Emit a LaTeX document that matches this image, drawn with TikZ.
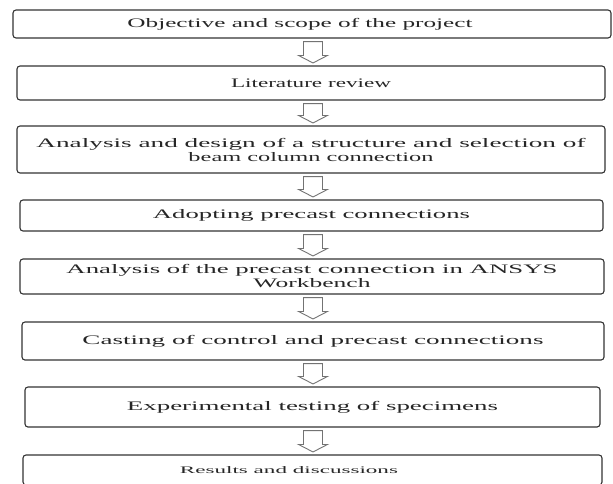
\documentclass[tikz,border=0pt]{standalone}
\usepackage{fontspec}
\setmainfont{Liberation Serif}
\usetikzlibrary{calc}
\newcommand\fitw[2]{\resizebox{#1pt}{\height}{#2}}
\tikzset{
  stepbox/.style={draw=black!80, line width=1.1pt, rounded corners=3pt, fill=white,
    inner sep=0pt, align=center, text=black!85, font=\fontsize{13}{14}\selectfont},
  blockarrow/.style={draw=black!55, line width=0.9pt, fill=white, line join=miter},
}
\newcommand\flowarrow[2]{%
  \draw[blockarrow] let \p1=(#1.south), \p2=(#2.north) in
    (303.5pt,\y1-3pt) -- (322.5pt,\y1-3pt) -- (322.5pt,\y2+10pt) -- (327.5pt,\y2+10pt)
    -- (313pt,\y2+2.5pt) -- (298.5pt,\y2+10pt) -- (303.5pt,\y2+10pt) -- cycle;}
\begin{document}
\begin{tikzpicture}[x=1pt,y=-1pt]
\useasboundingbox (0,0) rectangle (613,483);
\clip (0,0) rectangle (613,483);
\fill[white] (0,0) rectangle (613,483);
\node[stepbox, minimum width=598pt, minimum height=28pt] (b1) at (312,24)
  {\hspace*{-24pt}\fitw{345}{Objective and scope of the project}};
\node[stepbox, minimum width=588pt, minimum height=34pt] (b2) at (311,83)
  {\fitw{160}{Literature review}};
\node[stepbox, minimum width=588pt, minimum height=47pt] (b3) at (311,149.5)
  {\fitw{549}{Analysis and design of a structure and selection of}\\\fitw{245}{beam column connection}};
\node[stepbox, minimum width=583pt, minimum height=31pt] (b4) at (311.5,215.5)
  {\fitw{317}{Adopting precast connections}};
\node[stepbox, minimum width=584pt, minimum height=35pt] (b5) at (312,276.5)
  {\fitw{491}{Analysis of the precast connection in ANSYS}\\\fitw{117}{Workbench}};
\node[stepbox, minimum width=582pt, minimum height=38pt] (b6) at (313,341)
  {\fitw{461}{Casting of control and precast connections}};
\node[stepbox, minimum width=575pt, minimum height=40pt] (b7) at (312.5,407)
  {\fitw{371}{Experimental testing of specimens}};
\node[stepbox, minimum width=579pt, minimum height=30pt, font=\fontsize{10}{12}\selectfont] (b8) at (312.5,470)
  {\hspace*{-47pt}\fitw{218}{Results and discussions}};
\flowarrow{b1}{b2}
\flowarrow{b2}{b3}
\flowarrow{b3}{b4}
\flowarrow{b4}{b5}
\flowarrow{b5}{b6}
\flowarrow{b6}{b7}
\flowarrow{b7}{b8}
\end{tikzpicture}
\end{document}
